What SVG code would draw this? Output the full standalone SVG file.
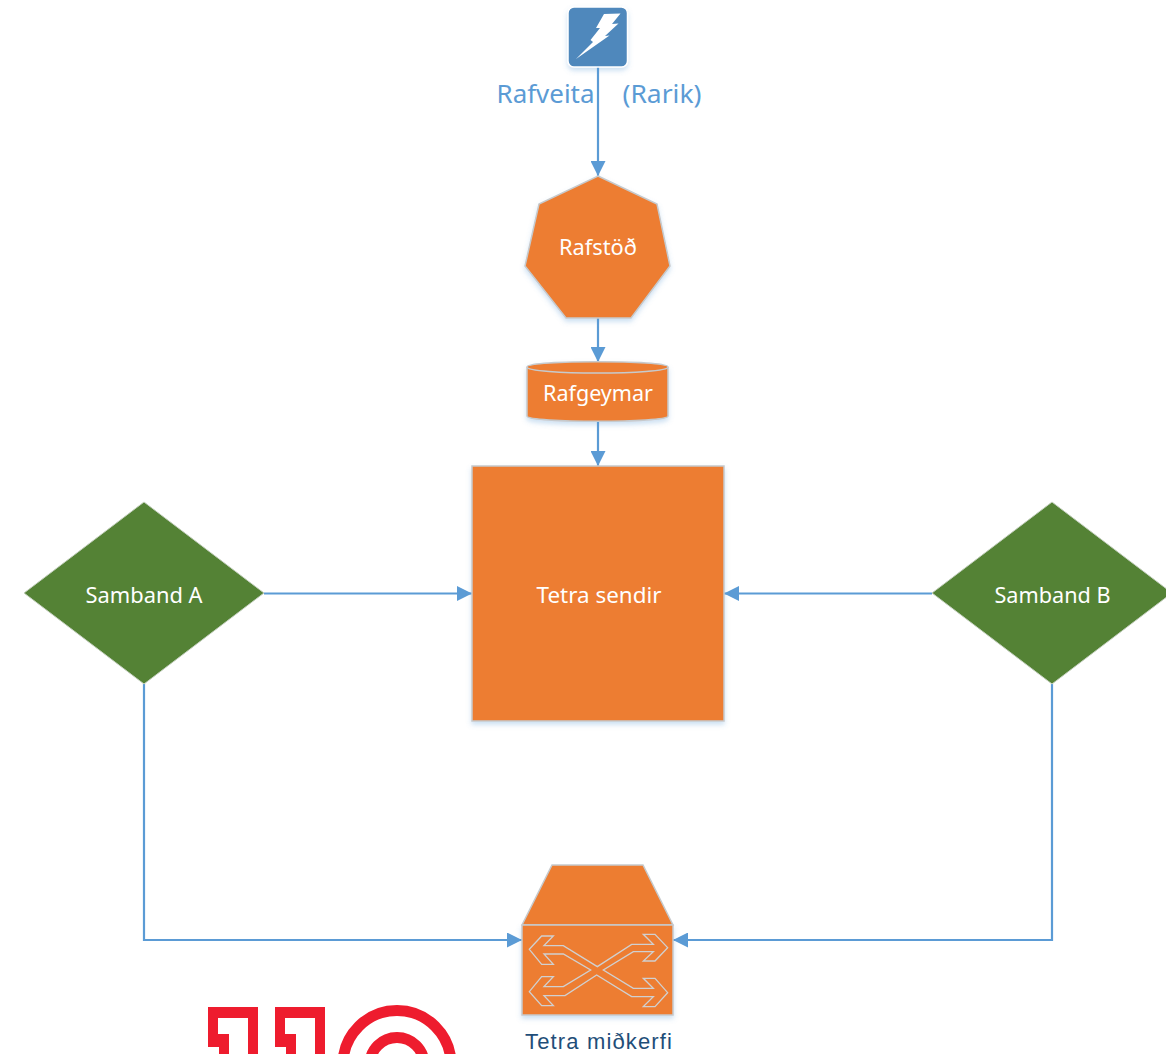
<svg xmlns="http://www.w3.org/2000/svg" width="1166" height="1054" viewBox="0 0 1166 1054">
<style>
text{font-family:"Noto Sans","Open Sans","Liberation Sans",sans-serif;text-anchor:middle}
.w{fill:#fff;font-size:21px}
.o{fill:#ed7d31;stroke:#c6cacd;stroke-width:1.500}
.g{fill:#548235;stroke:#c3cfbd;stroke-width:1}
.c{fill:none;stroke:#5b9bd5;stroke-width:2.200}
.r{fill:#ee1c2e}
</style>
<defs>
<marker id="a" markerUnits="userSpaceOnUse" markerWidth="15" markerHeight="15" refX="15" refY="7.500" orient="auto"><path d="M0 0L15 7.500L0 15Z" fill="#5b9bd5"/></marker>
<filter id="s" x="-10%" y="-10%" width="120%" height="125%"><feDropShadow dx="0" dy="3" stdDeviation="2.500" flood-color="#5b9bd5" flood-opacity=".3"/></filter>
</defs>
<g id="connectors">
<path class="c" marker-end="url(#a)" d="M598 67V176"/>
<path class="c" marker-end="url(#a)" d="M598 318V362"/>
<path class="c" marker-end="url(#a)" d="M598 421V466"/>
<path class="c" marker-end="url(#a)" d="M264 593.500H472"/>
<path class="c" marker-end="url(#a)" d="M932 593.500H724"/>
<path class="c" marker-end="url(#a)" d="M144 684V940H522"/>
<path class="c" marker-end="url(#a)" d="M1052 684V940H673"/>
</g>
<g id="rafveita">
<rect x="568" y="7" width="59.500" height="60" rx="6" fill="#4f88bc" stroke="#fff" stroke-width="1.500" filter="url(#s)"/>
<path fill="#fff" d="M604 14L620.500 13.500L612 24L618.500 23.500L605 36L609.500 35.500L576 59L593 42L590.500 40L600 28L596 28Z"/>
<text x="545.500" y="103" font-size="26" fill="#5b9bd5" textLength="98" lengthAdjust="spacingAndGlyphs">Rafveita</text>
<text x="662" y="103" font-size="26" fill="#5b9bd5" textLength="79" lengthAdjust="spacingAndGlyphs">(Rarik)</text>
</g>
<g id="rafstod">
<path class="o" filter="url(#s)" d="M598 176L657 204L670 266L631 318H566L525 266L539 204Z"/>
<text class="w" x="598" y="255" textLength="78" lengthAdjust="spacingAndGlyphs">Rafstöð</text>
</g>
<g id="rafgeymar">
<path class="o" filter="url(#s)" d="M527 367C527 360 668 360 668 367V416C668 423 527 423 527 416Z"/>
<path fill="none" stroke="#c6cacd" stroke-width="1.500" d="M527 367C527 375 668 375 668 367"/>
<text class="w" x="598" y="401" textLength="110" lengthAdjust="spacingAndGlyphs">Rafgeymar</text>
</g>
<g id="tetra-sendir">
<rect class="o" x="472" y="466" width="252" height="255" filter="url(#s)"/>
<text class="w" x="599" y="603" textLength="125" lengthAdjust="spacingAndGlyphs">Tetra sendir</text>
</g>
<g id="samband-a">
<path class="g" d="M144 502L264 593L144 684L24 593Z"/>
<text class="w" x="144" y="603" textLength="117" lengthAdjust="spacingAndGlyphs">Samband A</text>
</g>
<g id="samband-b">
<path class="g" d="M1052 502L1172 593L1052 684L932 593Z"/>
<text class="w" x="1052.500" y="603" textLength="116" lengthAdjust="spacingAndGlyphs">Samband B</text>
</g>
<g id="tetra-midkerfi">
<path class="o" d="M552 865H643L673 925H522Z"/>
<rect class="o" x="522" y="925" width="151" height="90" filter="url(#s)"/>
<path transform="translate(500 850) scale(.3333)" fill="none" stroke="#d0d0d0" stroke-width="4" d="M88 298L125 258H160L132 287H190L292 350L395 283H460L430 253H465L503 293L465 333H430L460 305H400L310 360L400 415H460L430 385H465L503 428L465 470H430L460 440H395L290 375L195 437H132L160 467H125L88 425L125 380H160L132 410H190L272 360L190 312H132L160 343H125Z"/>
<text x="598.500" y="1049" style="font-family:'Liberation Sans',sans-serif" font-size="22" fill="#1f4e79" textLength="147" lengthAdjust="spacing">Tetra miðkerfi</text>
</g>
<g id="logo">
<path class="r" d="M208 1007H258V1054H248V1018H218V1034H229V1054H219V1047H208Z"/>
<path class="r" d="M275 1007H325V1054H315V1018H285V1034H296V1054H286V1047H275Z"/>
<circle cx="397" cy="1064.500" r="54" fill="none" stroke="#ee1c2e" stroke-width="11"/>
<circle cx="397" cy="1064.500" r="27" fill="none" stroke="#ee1c2e" stroke-width="11"/>
</g>
</svg>
